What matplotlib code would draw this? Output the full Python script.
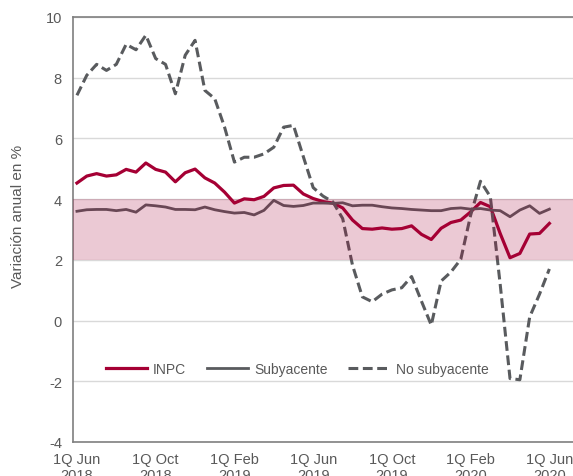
import matplotlib
matplotlib.use('Agg')
import matplotlib.pyplot as plt
import numpy as np

plt.rcParams['font.family'] = ['Liberation Sans', 'DejaVu Sans']
plt.rcParams['axes.unicode_minus'] = False

#Biweekly annual inflation, 1Q Jun 2018 to 1Q Jun 2020
inpc = [4.53, 4.76, 4.84, 4.76, 4.80, 4.98, 4.89, 5.19, 4.98, 4.89,
        4.57, 4.87, 4.99, 4.70, 4.53, 4.23, 3.87, 4.01, 3.98, 4.09,
        4.37, 4.45, 4.46, 4.17, 4.02, 3.92, 3.87, 3.71, 3.31, 3.03,
        3.01, 3.05, 3.01, 3.03, 3.12, 2.84, 2.67, 3.04, 3.23, 3.31,
        3.58, 3.89, 3.75, 2.87, 2.07, 2.21, 2.85, 2.87, 3.20]
subyacente = [3.60, 3.65, 3.66, 3.66, 3.62, 3.66, 3.57, 3.81, 3.78, 3.74,
              3.66, 3.66, 3.65, 3.74, 3.65, 3.59, 3.54, 3.56, 3.48, 3.63,
              3.96, 3.79, 3.76, 3.79, 3.87, 3.87, 3.86, 3.88, 3.78, 3.80,
              3.80, 3.75, 3.71, 3.69, 3.66, 3.64, 3.62, 3.62, 3.69, 3.71,
              3.67, 3.69, 3.64, 3.62, 3.42, 3.64, 3.78, 3.53, 3.67]
no_subyacente = [7.42, 8.08, 8.44, 8.24, 8.44, 9.10, 8.92, 9.40, 8.63, 8.44,
                 7.47, 8.74, 9.23, 7.58, 7.31, 6.37, 5.22, 5.38, 5.38, 5.49,
                 5.71, 6.37, 6.43, 5.40, 4.38, 4.10, 3.91, 3.36, 1.82, 0.78,
                 0.62, 0.87, 1.01, 1.08, 1.45, 0.64, -0.15, 1.30, 1.60, 2.02,
                 3.47, 4.59, 4.08, 1.20, -1.91, -1.95, 0.12, 0.87, 1.70]
tick_labels = ['1Q Jun\n2018', '1Q Oct\n2018', '1Q Feb\n2019', '1Q Jun\n2019',
               '1Q Oct\n2019', '1Q Feb\n2020', '1Q Jun\n2020']
band_low, band_high = 2, 4 #Target range +/- 1 pp

red = '#A50034'
gray = '#595B5E'
txt = '#595959'

x = np.arange(len(inpc))

fig = plt.figure(figsize=(5.73, 4.77), dpi=100)
ax = fig.add_axes([0.1274, 0.0713, 0.8726, 0.891])

ax.plot(x, inpc, color=red, lw=2.3, label='INPC', zorder=3)
ax.plot(x, subyacente, color=gray, lw=2.0, label='Subyacente', zorder=3)
ax.plot(x, no_subyacente, color=gray, lw=2.2, linestyle=(0, (3.2, 1.5)),
        label='No subyacente', zorder=3)

#Band goes over the lines, semi transparent
ax.axhspan(band_low, band_high, color=red, alpha=0.21, lw=0, zorder=4)

ax.set_xlim(-0.4, 50.4)
ax.set_ylim(-4, 10)
ax.set_yticks(np.arange(-4, 11, 2))
ax.set_xticks(x[::8])
ax.set_xticklabels(tick_labels)
ax.tick_params(length=0, labelsize=10.5, colors=txt)
ax.tick_params(axis='y', pad=8)
ax.tick_params(axis='x', pad=7)
ax.grid(axis='y', color='#D9D9D9', lw=1)
ax.set_axisbelow(True)
for s in ['left', 'bottom', 'top']:
    ax.spines[s].set_color('#7F7F7F')
    ax.spines[s].set_linewidth(1.2)
ax.spines['right'].set_visible(False)

ax.set_ylabel('Variación anual en %', color=txt, fontsize=11)
ax.yaxis.set_label_coords(-0.096, 0.532)

ax.legend(loc='center', bbox_to_anchor=(0.448, 0.172), ncol=3, frameon=False,
          fontsize=10, labelcolor=txt, handlelength=3.0, handletextpad=0.4,
          columnspacing=1.5)

fig.savefig('out.png', dpi=100)
